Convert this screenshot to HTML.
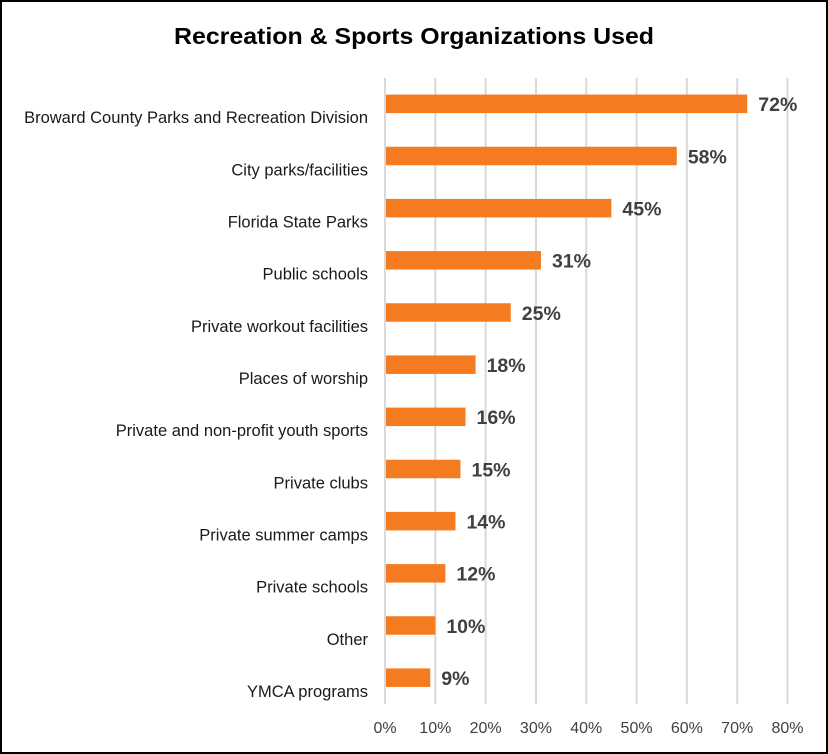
<!DOCTYPE html>
<html><head><meta charset="utf-8"><style>
html,body{margin:0;padding:0;background:#fff}
svg{display:block}
text{font-family:"Liberation Sans",sans-serif}
</style></head><body>
<svg id="chart" width="828" height="754" xmlns="http://www.w3.org/2000/svg">
<rect x="1" y="1" width="826" height="752" fill="#fff" stroke="#000" stroke-width="2"/>
<text x="414" y="44" text-anchor="middle" font-size="23" font-weight="bold" fill="#000" textLength="480" lengthAdjust="spacingAndGlyphs">Recreation &amp; Sports Organizations Used</text>
<g id="grid"></g><g id="bars"></g><g id="labels"></g><g id="ticks"></g>
</svg>
<script>
const categories=["Broward County Parks and Recreation Division","City parks/facilities","Florida State Parks","Public schools","Private workout facilities","Places of worship","Private and non-profit youth sports","Private clubs","Private summer camps","Private schools","Other","YMCA programs"];
const values=[72,58,45,31,25,18,16,15,14,12,10,9];
const tickValues=[0,10,20,30,40,50,60,70,80];
const tickLabels=["0%","10%","20%","30%","40%","50%","60%","70%","80%"];
const NS="http://www.w3.org/2000/svg";
const x0=385,x1=787.5,xmax=80,plotTop=78,plotBottom=704;
const xs=v=>x0+(x1-x0)*v/xmax;
const band=(plotBottom-plotTop)/categories.length;
const yc=i=>plotTop+band*i+band/2;
function mk(tag,attrs,parent){const e=document.createElementNS(NS,tag);for(const k in attrs)e.setAttribute(k,attrs[k]);document.getElementById(parent).appendChild(e);return e;}
tickValues.forEach((t,i)=>{
 const l=mk('line',{x1:xs(t),x2:xs(t),y1:plotTop,y2:plotBottom,stroke:'#d9d9d9','stroke-width':2},'grid');
 
 
 const tx=mk('text',{x:xs(t),y:733,'text-anchor':'middle','font-size':16,fill:'#404040'},'ticks');
 tx.textContent=tickLabels[i];
 
 
});
categories.forEach((c,i)=>{
 const cy=yc(i)-0.5;
 const r=mk('rect',{x:x0+1,y:cy-9,width:xs(values[i])-x0-1,height:18.5,fill:'#f47b20'},'bars');
 
 
 const v=mk('text',{x:xs(values[i])+11,y:cy+7.5,'font-size':19.5,'font-weight':'bold',fill:'#404040'},'labels');
 v.textContent=values[i]+'%';
 
 
 const cl=mk('text',{x:368,y:cy+19.5,'text-anchor':'end','font-size':16.5,fill:'#1a1a1a'},'labels');
 cl.textContent=c;
 
 
});
</script>
</body></html>
